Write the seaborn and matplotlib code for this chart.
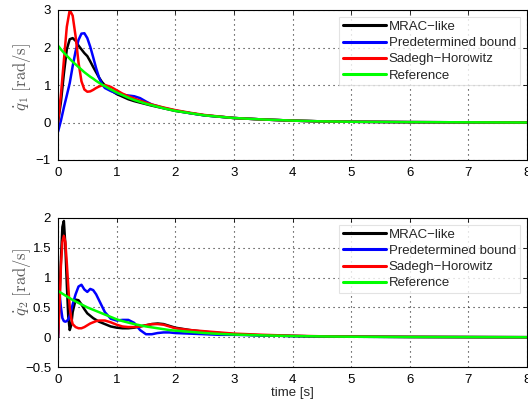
import matplotlib
matplotlib.use("Agg")
import matplotlib.pyplot as plt
import seaborn as sns
import pandas as pd

# ---------------- data ----------------
t_top = [0, 0.05, 0.1, 0.15, 0.2, 0.25, 0.3, 0.35, 0.4, 0.45, 0.5, 0.55, 0.6, 0.65,
         0.7, 0.75, 0.8, 0.9, 1.0, 1.1, 1.2, 1.3, 1.4, 1.5, 1.6, 1.8, 2.0, 2.25, 2.5,
         2.75, 3.0, 3.5, 4.0, 4.5, 5.0, 6.0, 7.0, 8.0]

mrac_top = [0.0, 0.55, 1.3, 1.95, 2.22, 2.25, 2.18, 2.05, 1.95, 1.85, 1.77, 1.63, 1.48,
            1.34, 1.2, 1.08, 0.99, 0.86, 0.76, 0.69, 0.62, 0.57, 0.53, 0.49, 0.45, 0.38,
            0.31, 0.25, 0.19, 0.155, 0.12, 0.08, 0.05, 0.03, 0.02, 0.01, 0.005, 0.0]
pred_top = [-0.25, 0.05, 0.4, 0.72, 1.05, 1.5, 1.9, 2.2, 2.37, 2.38, 2.25, 2.02, 1.74,
            1.45, 1.2, 1.02, 0.92, 0.84, 0.78, 0.74, 0.72, 0.70, 0.65, 0.56, 0.48, 0.39,
            0.32, 0.25, 0.19, 0.155, 0.12, 0.08, 0.05, 0.03, 0.02, 0.01, 0.005, 0.0]
sadegh_top = [0.0, 0.75, 1.65, 2.55, 3.0, 2.85, 2.3, 1.6, 1.1, 0.88, 0.82, 0.83, 0.87,
              0.92, 0.96, 0.99, 1.0, 0.95, 0.86, 0.77, 0.70, 0.64, 0.58, 0.53, 0.48, 0.40,
              0.33, 0.26, 0.20, 0.16, 0.12, 0.08, 0.05, 0.03, 0.02, 0.01, 0.005, 0.0]
ref_top = [2.05, 1.95, 1.86, 1.78, 1.70, 1.62, 1.55, 1.48, 1.41, 1.34, 1.28, 1.22, 1.17,
           1.11, 1.06, 1.01, 0.97, 0.88, 0.80, 0.73, 0.66, 0.60, 0.55, 0.50, 0.46, 0.38,
           0.31, 0.25, 0.19, 0.155, 0.12, 0.08, 0.05, 0.03, 0.02, 0.01, 0.005, 0.0]

t_bot = [0, 0.025, 0.05, 0.075, 0.1, 0.125, 0.15, 0.175, 0.2, 0.225, 0.25, 0.3, 0.35,
         0.4, 0.45, 0.5, 0.55, 0.6, 0.65, 0.7, 0.8, 0.9, 1.0, 1.1, 1.2, 1.3, 1.4, 1.5,
         1.6, 1.7, 1.8, 1.9, 2.0, 2.25, 2.5, 2.75, 3.0, 3.5, 4.0, 4.5, 5.0, 6.0, 7.0, 8.0]

mrac_bot = [0.0, 0.6, 1.3, 1.85, 1.95, 1.55, 0.9, 0.35, 0.12, 0.2, 0.42, 0.63, 0.62,
            0.55, 0.47, 0.40, 0.36, 0.32, 0.29, 0.26, 0.22, 0.18, 0.16, 0.15, 0.15, 0.16,
            0.18, 0.20, 0.22, 0.23, 0.22, 0.19, 0.16, 0.12, 0.09, 0.07, 0.05, 0.03, 0.02,
            0.012, 0.008, 0.004, 0.002, 0.0]
pred_bot = [0.0, 0.75, 0.5, 0.32, 0.27, 0.26, 0.27, 0.3, 0.36, 0.45, 0.55, 0.72, 0.85,
            0.88, 0.80, 0.76, 0.81, 0.79, 0.72, 0.62, 0.42, 0.31, 0.28, 0.29, 0.29, 0.24,
            0.12, 0.05, 0.05, 0.07, 0.08, 0.08, 0.07, 0.06, 0.05, 0.04, 0.04, 0.03, 0.02,
            0.012, 0.008, 0.004, 0.002, 0.0]
sadegh_bot = [0.0, 0.5, 1.2, 1.6, 1.7, 1.6, 1.25, 0.85, 0.5, 0.32, 0.22, 0.17, 0.15,
              0.15, 0.17, 0.20, 0.23, 0.25, 0.27, 0.28, 0.28, 0.25, 0.21, 0.18, 0.17, 0.17,
              0.18, 0.20, 0.22, 0.22, 0.21, 0.18, 0.15, 0.12, 0.10, 0.08, 0.06, 0.04, 0.025,
              0.015, 0.01, 0.005, 0.002, 0.0]
ref_bot = [0.78, 0.76, 0.745, 0.73, 0.715, 0.70, 0.685, 0.67, 0.655, 0.64, 0.625, 0.6,
           0.575, 0.55, 0.525, 0.50, 0.48, 0.46, 0.44, 0.42, 0.38, 0.34, 0.30, 0.27, 0.245,
           0.22, 0.2, 0.18, 0.165, 0.15, 0.135, 0.12, 0.11, 0.09, 0.07, 0.055, 0.045, 0.03,
           0.02, 0.013, 0.008, 0.004, 0.002, 0.0]

labels = ["MRAC\u2212like", "Predetermined bound", "Sadegh\u2212Horowitz", "Reference"]
colors = ["#000000", "#0000ff", "#ff0000", "#00ff00"]

top_ticks = [-1, 0, 1, 2, 3]
bot_ticks = [-0.5, 0, 0.5, 1, 1.5, 2]
x_ticks = [0, 1, 2, 3, 4, 5, 6, 7, 8]

# ---------------- style ----------------
sns.set_style("white")
plt.rcParams["font.family"] = ["Liberation Sans", "DejaVu Sans"]
plt.rcParams["mathtext.fontset"] = "cm"

fig = plt.figure(figsize=(5.28, 4.01), dpi=100)
ax1 = fig.add_axes([58 / 528, 1 - 160 / 401, 469 / 528, 150 / 401])
ax2 = fig.add_axes([58 / 528, 1 - 367 / 401, 469 / 528, 149 / 401])


def draw(ax, t, series, yticks, ylim, ylabel, ly):
    for vals, lab, col in zip(series, labels, colors):
        df = pd.DataFrame({"t": t, "v": vals})
        sns.lineplot(data=df, x="t", y="v", ax=ax, color=col, linewidth=1.8,
                     label=lab, sort=False, estimator=None)
    ax.set_xlim(0, 8)
    ax.set_ylim(*ylim)
    ax.set_xticks(x_ticks)
    ax.set_yticks(yticks)
    ax.set_yticklabels([("%g" % v).replace("-", "\u2212") for v in yticks])
    ax.grid(True, color="#222222", linestyle=(0, (1, 3.5)), linewidth=0.8)
    for sp in ax.spines.values():
        sp.set_color("black")
        sp.set_linewidth(0.8)
    ax.tick_params(direction="in", length=3, width=0.6, top=True, right=True,
                   labelsize=9.5, colors="black", pad=5)
    ax.set_xlabel("")
    ax.set_ylabel(ylabel, fontsize=12, color="#5a5a5a")
    ax.yaxis.set_label_coords(-0.053, ly)
    leg = ax.legend(loc="upper right", bbox_to_anchor=(0.985, 0.955), fontsize=9.5,
                    handlelength=3.3, handletextpad=0.2, labelspacing=0.3,
                    borderpad=0.3, frameon=True, fancybox=False, borderaxespad=0.0)
    leg.get_frame().set_edgecolor("#dddddd")
    leg.get_frame().set_linewidth(0.8)
    for h in leg.get_lines():
        h.set_linewidth(2.2)


draw(ax1, t_top, [mrac_top, pred_top, sadegh_top, ref_top], top_ticks, (-1, 3),
     r"$\dot{q}_1\ [\mathrm{rad/s}]$", 0.555)
draw(ax2, t_bot, [mrac_bot, pred_bot, sadegh_bot, ref_bot], bot_ticks, (-0.5, 2),
     r"$\dot{q}_2\ [\mathrm{rad/s}]$", 0.57)
ax2.set_xlabel("time [s]", fontsize=9.5, labelpad=1)

fig.savefig("out.png", dpi=100)
